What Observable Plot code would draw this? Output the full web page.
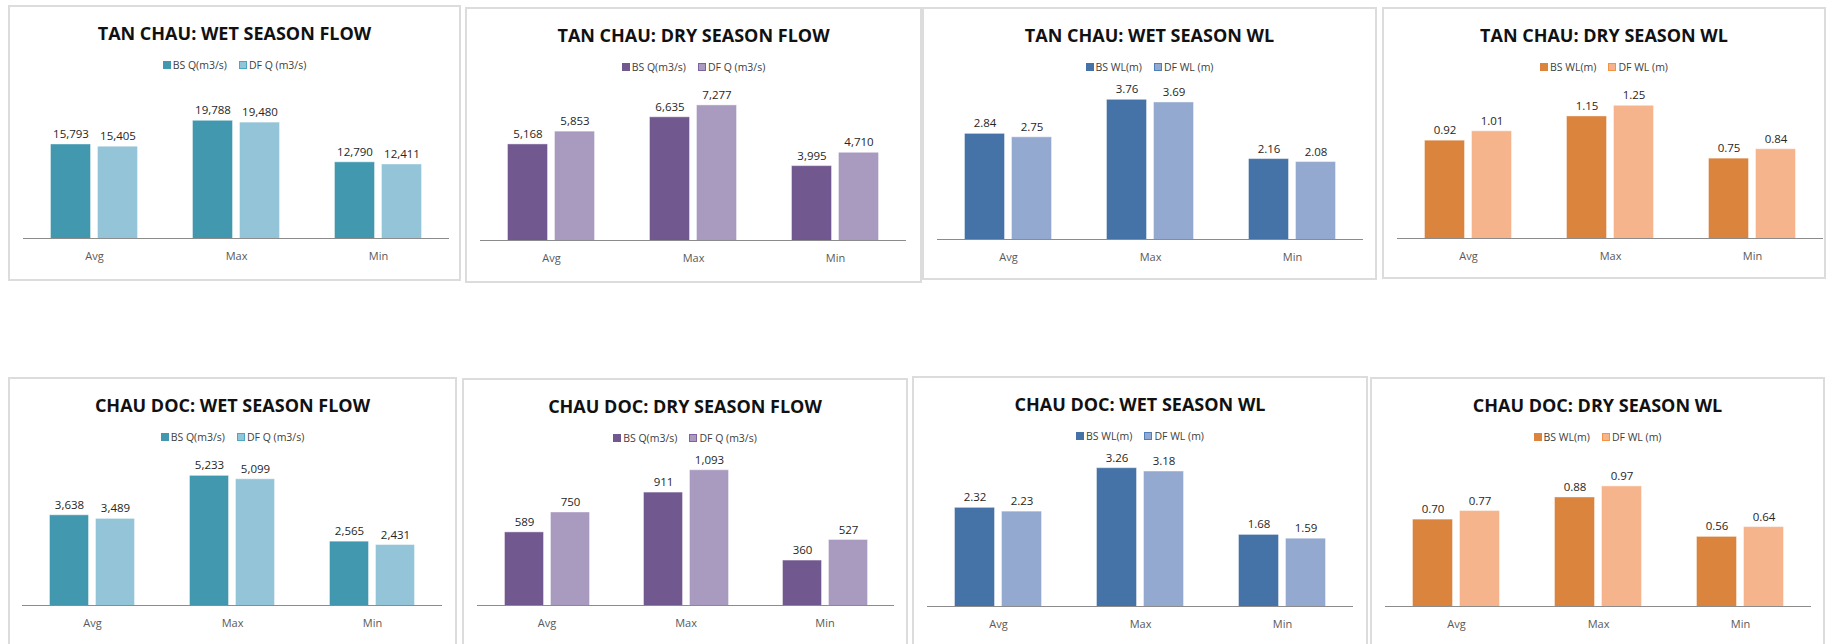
<!DOCTYPE html>
<html>
<head>
<meta charset="utf-8">
<script src="https://cdn.jsdelivr.net/npm/d3@7"></script>
<script src="https://cdn.jsdelivr.net/npm/@observablehq/plot@0.6"></script>
<style>
  html, body { margin: 0; padding: 0; background: #fff; }
  body { width: 1831px; height: 644px; position: relative; overflow: hidden; font-family: "Open Sans", "Liberation Sans", sans-serif; }
  .panel { position: absolute; box-sizing: border-box; border: 2px solid #dcdcdc; background: #fff; }
  .title { position: absolute; left: 0; right: 0; text-align: center; font-weight: 700; font-size: 18px; line-height: 24px; color: #111; white-space: nowrap; }
  .legend { position: absolute; left: 0; right: 0; display: flex; justify-content: center; gap: 12px; font-size: 10.5px; line-height: 12px; color: #404040; white-space: nowrap; }
  .legend span.item { display: inline-flex; align-items: center; gap: 2px; }
  .legend i { display: inline-block; width: 8px; height: 8px; box-sizing: border-box; }
  .panel svg { position: absolute; left: 0; overflow: visible; }
</style>
</head>
<body>
<script>
// ---- data ----
const categories = ["Avg", "Max", "Min"];
const seriesKeys = ["BS", "DF"];
const flowLegend = ["BS Q(m3/s)", "DF Q (m3/s)"];
const wlLegend = ["BS WL(m)", "DF WL (m)"];

const titles = [
  "TAN CHAU: WET SEASON FLOW", "TAN CHAU: DRY SEASON FLOW", "TAN CHAU: WET SEASON WL", "TAN CHAU: DRY SEASON WL",
  "CHAU DOC: WET SEASON FLOW", "CHAU DOC: DRY SEASON FLOW", "CHAU DOC: WET SEASON WL", "CHAU DOC: DRY SEASON WL"
];

const tcWetFlowBS = [15793, 19788, 12790];
const tcWetFlowDF = [15405, 19480, 12411];
const tcDryFlowBS = [5168, 6635, 3995];
const tcDryFlowDF = [5853, 7277, 4710];
const tcWetWLBS = [2.84, 3.76, 2.16];
const tcWetWLDF = [2.75, 3.69, 2.08];
const tcDryWLBS = [0.92, 1.15, 0.75];
const tcDryWLDF = [1.01, 1.25, 0.84];
const cdWetFlowBS = [3638, 5233, 2565];
const cdWetFlowDF = [3489, 5099, 2431];
const cdDryFlowBS = [589, 911, 360];
const cdDryFlowDF = [750, 1093, 527];
const cdWetWLBS = [2.32, 3.26, 1.68];
const cdWetWLDF = [2.23, 3.18, 1.59];
const cdDryWLBS = [0.70, 0.88, 0.56];
const cdDryWLDF = [0.77, 0.97, 0.64];

// axis maxima (Excel auto scale, axis hidden)
const yMaxima = [25000, 8000, 4, 1.4, 6000, 1200, 3.5, 1.2];

// ---- styles ----
const wetFlowColors = ["#4198AF", "#93C4D7"];
const dryFlowColors = ["#71588F", "#A99ABF"];
const wetWLColors = ["#4572A7", "#94A9CF"];
const dryWLColors = ["#DB843D", "#F6B48C"];

const flowFmt = d3.format(",d");
const wlFmt = d3.format(".2f");

const panels = [
  {bs: tcWetFlowBS, df: tcWetFlowDF, legend: flowLegend, colors: wetFlowColors, fmt: flowFmt},
  {bs: tcDryFlowBS, df: tcDryFlowDF, legend: flowLegend, colors: dryFlowColors, fmt: flowFmt},
  {bs: tcWetWLBS, df: tcWetWLDF, legend: wlLegend, colors: wetWLColors, fmt: wlFmt},
  {bs: tcDryWLBS, df: tcDryWLDF, legend: wlLegend, colors: dryWLColors, fmt: wlFmt},
  {bs: cdWetFlowBS, df: cdWetFlowDF, legend: flowLegend, colors: wetFlowColors, fmt: flowFmt},
  {bs: cdDryFlowBS, df: cdDryFlowDF, legend: flowLegend, colors: dryFlowColors, fmt: flowFmt},
  {bs: cdWetWLBS, df: cdWetWLDF, legend: wlLegend, colors: wetWLColors, fmt: wlFmt},
  {bs: cdDryWLBS, df: cdDryWLDF, legend: wlLegend, colors: dryWLColors, fmt: wlFmt}
];

// ---- layout (left, top, width, height, baseline within panel, plot width) ----
const layout = [
  {left: 8, top: 5, w: 453, h: 276, base: 233, pw: 428},
  {left: 465, top: 7, w: 457, h: 276, base: 233, pw: 428},
  {left: 922, top: 7, w: 455, h: 273, base: 232, pw: 428},
  {left: 1382, top: 7, w: 444, h: 272, base: 231, pw: 428},
  {left: 8, top: 377, w: 449, h: 300, base: 228, pw: 420},
  {left: 462, top: 378, w: 446, h: 300, base: 227, pw: 419},
  {left: 912, top: 376, w: 456, h: 300, base: 230, pw: 428},
  {left: 1370, top: 377, w: 455, h: 300, base: 229, pw: 428}
];

const plotH = 148, mTop = 15, mBottom = 34, mLeft = 12;

panels.forEach((p, i) => {
  const L = layout[i];
  const div = document.createElement("div");
  div.className = "panel";
  Object.assign(div.style, {left: L.left + "px", top: L.top + "px", width: L.w + "px", height: L.h + "px"});

  const t = document.createElement("div");
  t.className = "title";
  t.style.top = (26 - 12) + "px";
  t.textContent = titles[i];
  div.appendChild(t);

  const lg = document.createElement("div");
  lg.className = "legend";
  lg.style.top = (58 - 6) + "px";
  p.legend.forEach((lab, k) => {
    const it = document.createElement("span");
    it.className = "item";
    const sw = document.createElement("i");
    sw.style.background = p.colors[k];
    if (k === 1) sw.style.border = "1px solid " + d3.color(p.colors[0]).brighter(0.3);
    it.appendChild(sw);
    const tx = document.createElement("span");
    tx.textContent = lab;
    it.appendChild(tx);
    lg.appendChild(it);
  });
  div.appendChild(lg);

  const data = [];
  categories.forEach((c, j) => {
    data.push({cat: c, series: seriesKeys[0], value: p.bs[j]});
    data.push({cat: c, series: seriesKeys[1], value: p.df[j]});
  });

  const innerW = L.w - 4;
  const svg = Plot.plot({
    width: innerW,
    height: mTop + plotH + mBottom,
    marginTop: mTop,
    marginBottom: mBottom,
    marginLeft: mLeft,
    marginRight: innerW - mLeft - L.pw,
    style: {fontFamily: "'Open Sans', sans-serif", fontSize: "11px", color: "#595959", background: "transparent"},
    fx: {domain: categories, padding: 0, axis: "bottom", label: null, tickSize: 0, tickPadding: 14},
    x: {domain: seriesKeys, axis: null, paddingInner: 0.18, paddingOuter: 0.6},
    y: {domain: [0, yMaxima[i]], axis: null},
    color: {domain: seriesKeys, range: p.colors},
    marks: [
      Plot.barY(data, {fx: "cat", x: "series", y: "value", fill: "series", stroke: "series", strokeOpacity: 0.6, strokeWidth: 1}),
      Plot.ruleY([0], {stroke: "#8c8c8c", strokeWidth: 1.2}),
      Plot.text(data, {fx: "cat", x: "series", y: "value", text: d => p.fmt(d.value), dy: -7, lineAnchor: "bottom", fill: "#262626", fontSize: 11.5})
    ]
  });
  svg.style.top = (L.base - 2 - mTop - plotH) + "px";
  div.appendChild(svg);
  document.body.appendChild(div);
});
</script>
</body>
</html>
